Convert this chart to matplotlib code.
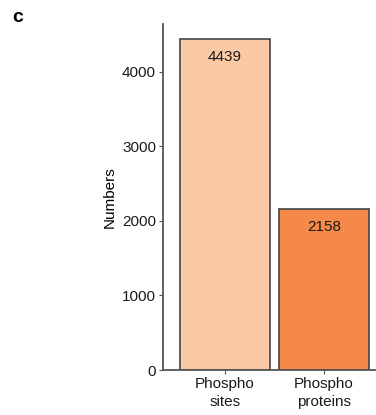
import matplotlib
matplotlib.use("Agg")
import matplotlib.pyplot as plt

categories = ["Phospho\nsites", "Phospho\nproteins"]
values = [4439, 2158]
colors = ["#FCC9A5", "#F4894A"]
yticks = [0, 1000, 2000, 3000, 4000]

plt.rcParams['font.family'] = ['Liberation Sans', 'DejaVu Sans']

fig = plt.figure(figsize=(3.76, 4.15), dpi=100)
ax = fig.add_axes([163 / 376, 1 - 370 / 415, 212 / 376, 346 / 415])

pos = [1, 2]
ax.bar(pos, values, width=0.91, color=colors, edgecolor="#444444", linewidth=1.2)
for p, v in zip(pos, values):
    ax.annotate(str(v), (p, v), xytext=(0, -7.5), textcoords="offset points",
                ha="center", va="top", fontsize=11, color="#1a1a1a")

ax.set_xlim(0.374, 2.515)
ax.set_ylim(0, 4644)
ax.set_xticks(pos)
ax.set_xticklabels(categories, fontsize=11, color="#1a1a1a", linespacing=1.35)
ax.set_yticks(yticks)
ax.set_yticklabels([str(t) for t in yticks], fontsize=11, color="#1a1a1a")
ax.set_ylabel("Numbers", fontsize=11, labelpad=4)

for s in ["top", "right"]:
    ax.spines[s].set_visible(False)
for s in ["left", "bottom"]:
    ax.spines[s].set_color("#555555")
    ax.spines[s].set_linewidth(1.3)
ax.tick_params(length=3, width=0.8, color="#555555", pad=2)

fig.text(12 / 376, 1 - 18 / 415, "c", fontsize=14, fontweight="bold", va="center")

fig.savefig("out.png", dpi=100)
